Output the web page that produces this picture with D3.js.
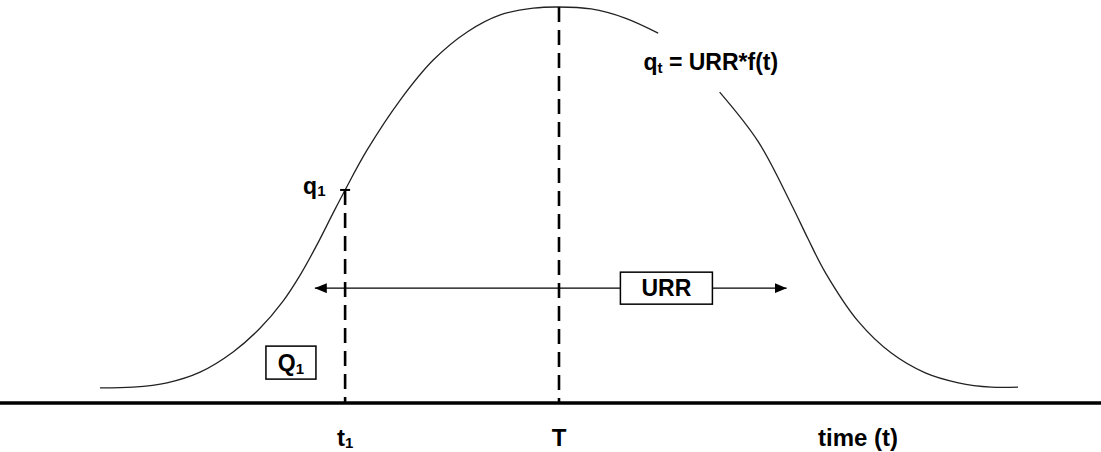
<!DOCTYPE html>
<meta charset="utf-8">
<html>
<head>
<script src="https://cdn.jsdelivr.net/npm/d3@7"></script>
<style>
body { margin: 0; background: #fff; }
text { font-family: Arial, 'Liberation Sans', sans-serif; font-weight: bold; fill: #000; }
</style>
</head>
<body>
<div id="my_dataviz"></div>
<script>

// production curve q(t) (null = gap behind the formula label)
var tValues = [0, 3.6, 7.3, 10.9, 14.5, 17.4, 19.9, 21.8, 23.6, 25.4, 26.7, 29.1, 32.7, 36.3, 40.0, 43.6, 47.2, 49.9,
               53.5, 57.2, 60.8, null, 67.5, 71.7, 75.3, 77.1, 79.0, 82.6, 86.2, 89.9, 93.5, 97.1, 100];
var qValues = [3.8, 4.0, 5.1, 7.8, 12.9, 18.8, 25.6, 32.3, 39.8, 48.0, 53.8, 63.9, 76.5, 86.6, 93.7, 98.0, 99.7, 100,
               99.5, 97.2, 93.4, null, 78.5, 66.0, 50.2, 41.6, 33.0, 20.6, 12.6, 7.6, 5.1, 4.0, 4.0];

// marked times on the axis
var markTimes = [26.7, 50];
var markQ = [53.8, 100];
var markNames = ["t", "T"];
var markSubs = ["1", ""];

// URR arrow
var urrSpan = [23.4, 74.8];
var urrLevel = 29;

var width = 1101, height = 452;

var svg = d3.select("#my_dataviz")
  .append("svg")
  .attr("width", width)
  .attr("height", height);

var x = d3.scaleLinear().domain([0, 100]).range([100, 1018]);
var y = d3.scaleLinear().domain([0, 100]).range([403, 7]);

var data = tValues.map(function(t, i) { return {t: t, q: qValues[i]}; });

// arrow heads
var defs = svg.append("defs");
defs.append("marker")
  .attr("id", "head")
  .attr("viewBox", "0 0 12 10")
  .attr("refX", 12).attr("refY", 5)
  .attr("markerWidth", 12).attr("markerHeight", 10)
  .attr("markerUnits", "userSpaceOnUse")
  .attr("orient", "auto-start-reverse")
  .append("path")
  .attr("d", "M0,0L12,5L0,10z")
  .attr("fill", "#000");

// curve
var line = d3.line()
  .defined(function(d) { return d.q !== null; })
  .x(function(d) { return x(d.t); })
  .y(function(d) { return y(d.q); })
  .curve(d3.curveCatmullRom.alpha(0.5));

svg.append("path")
  .datum(data)
  .attr("d", line)
  .attr("fill", "none")
  .attr("stroke", "#222")
  .attr("stroke-width", 1.3);

// dashed drop lines
svg.selectAll(".drop")
  .data(markTimes)
  .enter()
  .append("line")
  .attr("x1", function(d) { return x(d); })
  .attr("x2", function(d) { return x(d); })
  .attr("y1", function(d, i) { return y(markQ[i]); })
  .attr("y2", y(0))
  .attr("stroke", "#000")
  .attr("stroke-width", 2.6)
  .attr("stroke-dasharray", "15,8");

// little tick at q1
svg.append("line")
  .attr("x1", x(markTimes[0]) - 5).attr("x2", x(markTimes[0]) + 5)
  .attr("y1", y(markQ[0])).attr("y2", y(markQ[0]))
  .attr("stroke", "#000").attr("stroke-width", 2);

// URR arrow
svg.append("line")
  .attr("x1", x(urrSpan[0])).attr("x2", x(urrSpan[1]))
  .attr("y1", y(urrLevel)).attr("y2", y(urrLevel))
  .attr("stroke", "#000").attr("stroke-width", 1.3)
  .attr("marker-start", "url(#head)")
  .attr("marker-end", "url(#head)");

// boxes
function box(cx, cy, w, h, main, sub) {
  svg.append("rect")
    .attr("x", cx - w / 2).attr("y", cy - h / 2)
    .attr("width", w).attr("height", h)
    .attr("fill", "#fff").attr("stroke", "#000").attr("stroke-width", 1.5);
  var t = svg.append("text")
    .attr("x", cx).attr("y", cy + 8)
    .attr("text-anchor", "middle")
    .style("font-size", "23px")
    .text(main);
  if (sub) t.append("tspan").attr("dy", 3).style("font-size", "15px").text(sub);
}
box(x(61.7), y(urrLevel), 92, 32, "URR");
box(x(20.8), y(10.2), 50, 33, "Q", "1");

// baseline
svg.append("line")
  .attr("x1", 0).attr("x2", width)
  .attr("y1", y(0)).attr("y2", y(0))
  .attr("stroke", "#000").attr("stroke-width", 3.5);

// axis labels
svg.selectAll(".lab")
  .data(markTimes)
  .enter()
  .append("text")
  .attr("x", function(d) { return x(d); })
  .attr("y", 446)
  .attr("text-anchor", "middle")
  .style("font-size", "24px")
  .each(function(d, i) {
    d3.select(this).append("tspan").text(markNames[i]);
    if (markSubs[i]) d3.select(this).append("tspan").attr("dy", 2).style("font-size", "15px").text(markSubs[i]);
  });

svg.append("text")
  .attr("x", 818).attr("y", 446)
  .style("font-size", "24px")
  .text("time (t)");

// q1 label
var q1 = svg.append("text")
  .attr("x", x(markTimes[0]) - 42).attr("y", y(markQ[0]) + 4)
  .style("font-size", "23px")
  .text("q");
q1.append("tspan").attr("dy", 2).style("font-size", "15px").text("1");

// formula
var f = svg.append("text")
  .attr("x", x(59.2)).attr("y", y(84))
  .style("font-size", "23px")
  .text("q");
f.append("tspan").attr("dy", 3).style("font-size", "15px").text("t");
f.append("tspan").attr("dy", -3).text(" = URR*f(t)");

</script>
</body>
</html>
